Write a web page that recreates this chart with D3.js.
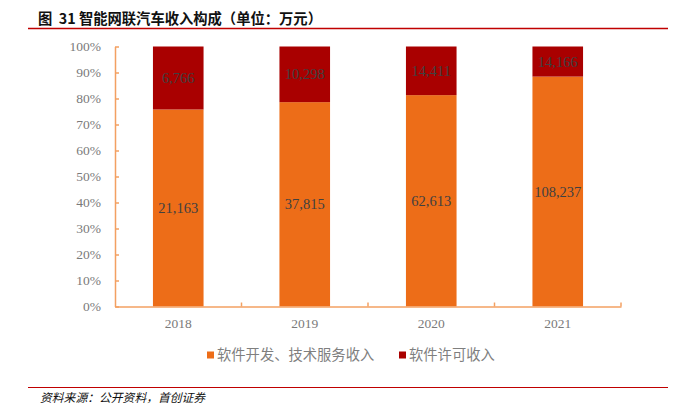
<!DOCTYPE html>
<html>
<head>
<meta charset="utf-8">
<script src="https://cdn.jsdelivr.net/npm/d3@7/dist/d3.min.js"></script>
<style>
  html, body { margin: 0; padding: 0; background: #fff; }
  svg { display: block; }
  .pre { white-space: pre; }
</style>
</head>
<body>
<svg id="chart" width="680" height="407"></svg>
<script>
const years = ["2018", "2019", "2020", "2021"];
const softwareDev = [21163, 37815, 62613, 108237];
const softwareLicense = [6766, 10298, 14411, 14166];
const seriesNames = ["软件开发、技术服务收入", "软件许可收入"];
const yTicks = [0, 0.1, 0.2, 0.3, 0.4, 0.5, 0.6, 0.7, 0.8, 0.9, 1.0];
const titleText = "图  31 智能网联汽车收入构成（单位：万元）";
const sourceText = "资料来源：公开资料，首创证券";

const colors = ["#ED6D18", "#A90000"];
const axisColor = "#F3A062";
const serif = "'Liberation Serif', 'Times New Roman', serif";
const cjk = "'Noto Sans CJK SC', 'Noto Sans', sans-serif";

const svg = d3.select("#chart");

// Title
svg.append("text")
  .attr("class", "pre")
  .attr("x", 38).attr("y", 24)
  .attr("font-family", cjk).attr("font-size", 14.3).attr("font-weight", 600)
  .attr("fill", "#111")
  .text(titleText);
svg.append("line")
  .attr("x1", 28).attr("x2", 668).attr("y1", 28.5).attr("y2", 28.5)
  .attr("stroke", "#C00000").attr("stroke-width", 1.5);

// Scales
const x = d3.scaleBand().domain(years).range([115, 621]).paddingInner(0).paddingOuter(0);
const y = d3.scaleLinear().domain([0, 1]).range([306.5, 46.5]);
const barW = x.bandwidth() * 0.4;

const data = years.map((yr, i) => {
  const total = softwareDev[i] + softwareLicense[i];
  return { year: yr, vals: [softwareDev[i], softwareLicense[i]], total };
});
const stackData = data.map(d => {
  const p0 = d.vals[0] / d.total;
  return { year: d.year, d: d, segs: [
    { s: 0, y0: 0, y1: p0, v: d.vals[0] },
    { s: 1, y0: p0, y1: 1, v: d.vals[1] }
  ]};
});

const g = svg.append("g");
const fmt = d3.format(",");

stackData.forEach(b => {
  const cx = x(b.year) + x.bandwidth() / 2;
  b.segs.forEach(sg => {
    g.append("rect")
      .attr("x", cx - barW / 2)
      .attr("width", barW)
      .attr("y", y(sg.y1))
      .attr("height", y(sg.y0) - y(sg.y1))
      .attr("fill", colors[sg.s]);
  });
  b.segs.forEach(sg => {
    g.append("text")
      .attr("x", cx)
      .attr("y", (y(sg.y0) + y(sg.y1)) / 2)
      .attr("dy", "0.35em")
      .attr("text-anchor", "middle")
      .attr("font-family", serif).attr("font-size", 14.5)
      .attr("fill", "#404040")
      .text(fmt(sg.v));
  });
});

// Y axis
const yAxis = d3.axisLeft(y).tickValues(yTicks).tickFormat(d3.format(".0%")).tickSizeInner(-4).tickSizeOuter(0).tickPadding(14);
const yg = svg.append("g").attr("transform", "translate(115,0)").call(yAxis);
yg.select(".domain").attr("stroke", axisColor).attr("stroke-width", 1.5);
yg.selectAll(".tick line").attr("stroke", axisColor).attr("stroke-width", 1.5);
yg.selectAll(".tick text").attr("font-family", serif).attr("font-size", 13.5).attr("fill", "#7A7A7A");

// X axis
const xAxis = d3.axisBottom(x).tickSize(0).tickPadding(12);
const xg = svg.append("g").attr("transform", "translate(0,306.5)").call(xAxis);
xg.select(".domain").attr("stroke", axisColor).attr("stroke-width", 1.5);
xg.selectAll(".tick text").attr("font-family", serif).attr("font-size", 13.5).attr("fill", "#7A7A7A");
// boundary ticks (inward)
const bounds = years.map(yv => x(yv)).concat([x(years[years.length - 1]) + x.bandwidth()]);
xg.selectAll(".btick").data(bounds.slice(1)).enter().append("line")
  .attr("x1", d => d).attr("x2", d => d).attr("y1", 0).attr("y2", -4)
  .attr("stroke", axisColor).attr("stroke-width", 1.5);

// Legend
const legendPos = [[207, 217], [399, 409]];
seriesNames.forEach((name, i) => {
  svg.append("rect")
    .attr("x", legendPos[i][0]).attr("y", 351.5)
    .attr("width", 7).attr("height", 7)
    .attr("fill", colors[i]);
  svg.append("text")
    .attr("x", legendPos[i][1]).attr("y", 355).attr("dy", "0.35em")
    .attr("font-family", cjk).attr("font-size", 14.3)
    .attr("fill", "#7F7F7F")
    .text(name);
});

// Source
svg.append("line")
  .attr("x1", 28).attr("x2", 668).attr("y1", 387.5).attr("y2", 387.5)
  .attr("stroke", "#C00000").attr("stroke-width", 1.2);
svg.append("text")
  .attr("x", 40).attr("y", 402)
  .attr("font-family", cjk).attr("font-size", 11.8).attr("font-style", "italic")
  .attr("fill", "#111")
  .text(sourceText);
</script>
</body>
</html>
